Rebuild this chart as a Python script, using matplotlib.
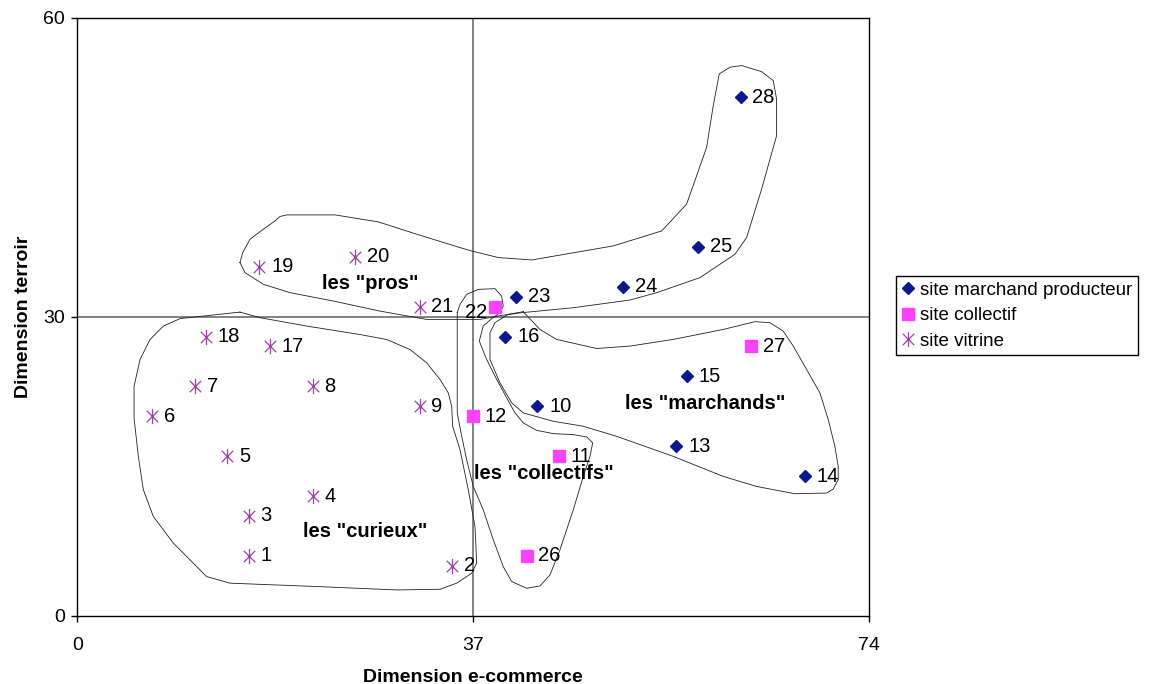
import matplotlib as mpl
mpl.use("Agg")
import matplotlib.pyplot as plt
from matplotlib.path import Path

plt.rcParams["font.family"] = ["Liberation Sans", "DejaVu Sans"]

# site marchand producteur
prod_ids = [10, 13, 14, 15, 16, 23, 24, 25, 28]
prod_x = [43, 56, 68, 57, 40, 41, 51, 58, 62]
prod_y = [21, 17, 14, 24, 28, 32, 33, 37, 52]

# site collectif
coll_ids = [11, 12, 22, 26, 27]
coll_x = [45, 37, 39, 42, 63]
coll_y = [16, 20, 31, 6, 27]

# site vitrine
vitr_ids = [1, 2, 3, 4, 5, 6, 7, 8, 9, 17, 18, 19, 20, 21]
vitr_x = [16, 35, 16, 22, 14, 7, 11, 22, 32, 18, 12, 17, 26, 32]
vitr_y = [6, 5, 10, 12, 16, 20, 23, 23, 21, 27, 28, 35, 36, 31]

# hand-drawn group outlines (data units)
curieux_outline = [
    (15.2, 30.45), (9.6, 29.8), (8.04, 29.05), (6.79, 27.7), (5.86, 25.7),
    (5.3, 23.0), (5.3, 19.84), (5.7, 15.98), (6.17, 12.63), (7.1, 9.95),
    (8.97, 7.28), (12.09, 3.92), (14.27, 3.26), (22.68, 2.91), (29.85, 2.58),
    (33.9, 2.65), (35.46, 3.26), (36.86, 4.26), (37.33, 5.27), (37.17, 8.94),
    (36.54, 12.63), (35.77, 16.65), (35.08, 19.0), (34.99, 21.0),
    (34.67, 22.35), (33.9, 23.69), (32.65, 25.37), (31.09, 26.7),
    (28.92, 27.7), (26.42, 28.2), (21.44, 29.05), (17.07, 29.89),
]
pros_outline = [
    (15.2, 35.42), (15.46, 36.42), (16.14, 37.76), (17.38, 38.76),
    (18.48, 39.6), (18.94, 40.04), (19.57, 40.2), (24.08, 40.2),
    (28.13, 39.5), (32.03, 38.16), (35.77, 36.92), (36.86, 36.58),
    (39.35, 35.92), (42.47, 35.68), (50.09, 37.09), (54.62, 38.59),
    (56.95, 41.28), (58.82, 46.97), (59.44, 51.16), (60.0, 54.34),
    (61.0, 55.01), (62.09, 55.18), (63.96, 54.57), (65.05, 53.67),
    (65.36, 51.83), (65.36, 48.14), (63.96, 42.78), (62.56, 37.93),
    (61.47, 36.25), (58.2, 33.91), (54.15, 32.4), (51.65, 31.66),
    (46.36, 30.89), (41.53, 30.39), (39.66, 30.12), (37.64, 29.72),
    (32.65, 29.72), (28.29, 30.55), (23.93, 31.56), (19.88, 32.4),
    (17.38, 33.24), (15.67, 34.41),
]
collectifs_outline = [
    (35.51, 30.39), (35.51, 20.34), (35.93, 17.99), (36.39, 15.65),
    (37.01, 12.96), (37.94, 10.62), (38.88, 7.61), (39.81, 4.92),
    (40.6, 3.42), (42.0, 2.75), (43.24, 2.98), (44.18, 4.09), (45.11, 6.6),
    (46.36, 10.62), (47.29, 13.97), (47.92, 15.98), (48.17, 17.33),
    (47.61, 17.93), (46.36, 18.16), (44.49, 18.26), (42.93, 18.59),
    (41.68, 19.34), (40.91, 20.34), (40.13, 21.85), (39.04, 24.02),
    (38.26, 25.7), (37.57, 27.54), (37.94, 29.05), (38.73, 29.79),
    (39.5, 30.39), (39.81, 31.06), (39.66, 32.06), (39.04, 32.8),
    (37.48, 32.73), (36.39, 32.23), (35.77, 31.23),
]
marchands_outline = [
    (41.68, 30.49), (43.24, 28.71), (44.8, 27.71), (48.54, 26.8),
    (51.65, 27.04), (55.7, 27.71), (60.37, 28.71), (63.34, 29.49),
    (64.74, 29.39), (65.98, 28.54), (66.92, 27.04), (68.17, 24.69),
    (69.41, 22.35), (70.19, 19.67), (70.81, 16.98), (71.12, 14.97),
    (71.12, 13.64), (70.65, 12.7), (70.04, 12.3), (67.07, 12.23),
    (63.5, 12.96), (60.37, 13.97), (55.7, 15.98), (50.41, 17.99),
    (47.29, 19.0), (44.49, 19.5), (41.68, 20.34), (40.6, 21.35),
    (39.5, 23.36), (38.57, 25.7), (38.57, 28.38), (39.04, 29.39),
    (40.28, 30.23),
]

group_names = ['les "pros"', 'les "curieux"', 'les "collectifs"', 'les "marchands"']
group_pos = [(27.4, 33.3), (26.9, 8.4), (43.6, 14.3), (58.7, 21.3)]

# star marker: vertical bar + X
star = Path(
    [(0, -1), (0, 1), (-0.75, -0.75), (0.75, 0.75), (-0.75, 0.75), (0.75, -0.75)],
    [Path.MOVETO, Path.LINETO, Path.MOVETO, Path.LINETO, Path.MOVETO, Path.LINETO],
)

fig = plt.figure(figsize=(11.51, 6.84), dpi=100)
ax = fig.add_axes([0.0672, 0.0999, 0.6878, 0.8745])

ax.axvline(37, color="#606060", lw=1.1, zorder=1)
ax.axhline(30, color="#606060", lw=1.1, zorder=1)

for outline in [curieux_outline, pros_outline, collectifs_outline, marchands_outline]:
    xs = [p[0] for p in outline] + [outline[0][0]]
    ys = [p[1] for p in outline] + [outline[0][1]]
    ax.plot(xs, ys, color="#202020", lw=0.6, zorder=2)

ax.plot(prod_x, prod_y, linestyle="none", marker="D", markersize=6.5,
        color="#0A1A8C", label="site marchand producteur", zorder=3)
ax.plot(coll_x, coll_y, linestyle="none", marker="s", markersize=8,
        color="#FF40FF", label="site collectif", zorder=3)
ax.plot(vitr_x, vitr_y, linestyle="none", marker=star, markersize=11,
        markeredgewidth=0.9, mfc="none", color="#A040A8", label="site vitrine",
        zorder=3)

for ids, xs, ys in [(prod_ids, prod_x, prod_y), (coll_ids, coll_x, coll_y),
                    (vitr_ids, vitr_x, vitr_y)]:
    for i, x, y in zip(ids, xs, ys):
        if i == 22:
            ax.annotate(str(i), (x, y), xytext=(-5, -4), textcoords="offset points",
                        ha="right", va="center", fontsize=14.5)
        else:
            ax.annotate(str(i), (x, y), xytext=(8.5, 0), textcoords="offset points",
                        ha="left", va="center", fontsize=14.5)

for name, (gx, gy) in zip(group_names, group_pos):
    ax.text(gx, gy, name, ha="center", va="center", fontsize=14.5, fontweight="bold")

ax.set_xlim(0, 74)
ax.set_ylim(0, 60)
ax.set_xticks([0, 37, 74])
ax.set_yticks([0, 30, 60])
ax.tick_params(labelsize=14, length=4, width=1, direction="out")
ax.tick_params(axis="x", pad=11)
ax.tick_params(axis="y", pad=5)
for s in ax.spines.values():
    s.set_linewidth(1)
ax.set_xlabel("Dimension e-commerce", fontsize=14, fontweight="bold", labelpad=11)
ax.set_ylabel("Dimension terroir", fontsize=14, fontweight="bold", labelpad=8)

ax.legend(loc="upper left", bbox_to_anchor=(0.7785, 0.5965),
          bbox_transform=fig.transFigure, fontsize=13.5, frameon=True,
          fancybox=False, edgecolor="black", framealpha=1, handlelength=0.7,
          handletextpad=0.3, borderpad=0.3, labelspacing=0.45, borderaxespad=0)
leg = ax.get_legend()
leg.get_frame().set_linewidth(1)

plt.savefig("out.png", dpi=100)
